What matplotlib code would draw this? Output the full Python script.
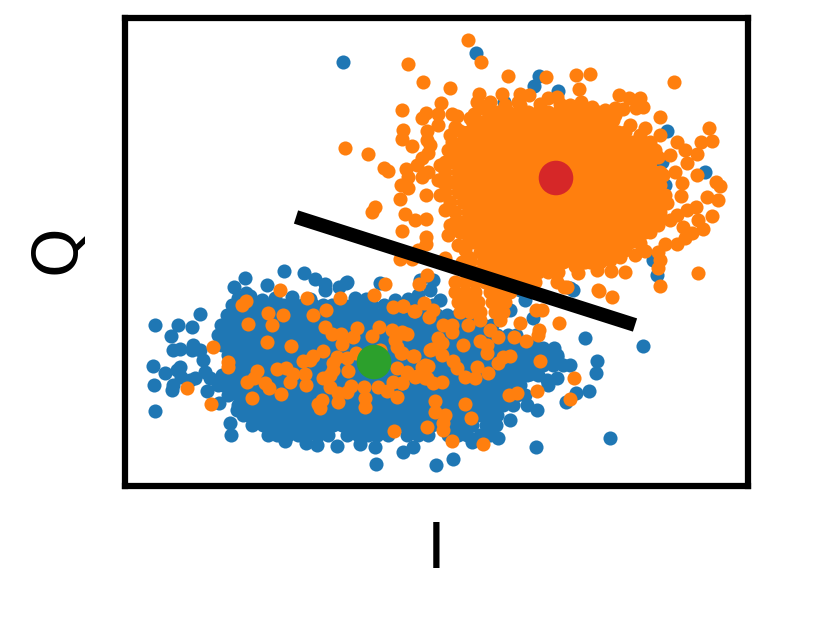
import matplotlib
matplotlib.use("Agg")
import matplotlib.pyplot as plt

# values, in the plot's own I / Q units
blue_outer = [(155,325),(178,325),(192,327),(171,336),(200,314),(173,350),(180,349),(192,350),(153,366),(165,373),
    (180,367),(177,370),(181,377),(154,385),(172,390),(173,385),(155,411),(195,378),(207,391),(219,403),(231,435),
    (230,423),(237,410),(245,278),(234,287),(284,271),(304,273),(315,279),(325,284),(347,282),(339,287),(267,285),
    (246,293),(325,290),(380,283),(285,441),(306,443),(317,445),(337,446),(360,444),(375,447),(376,464),(403,452),
    (413,447),(585,338),(643,346),(597,361),(596,373),(589,391),(576,393),(566,402),(610,438),(536,447),(453,459),
    (436,465),(537,410),(510,420),(498,438),(472,442),(570,365),(557,357),(554,348),(543,348),(537,348),(557,378),
    (547,380),(530,374),(573,290),(343,62),(476,53),(539,76),(534,86),(558,91),(504,102),(667,131),(705,172),
    (662,162),(665,185),(653,260),(657,275),(346,283),(420,280),(433,280),(570,288),(193,345),(200,350),(203,360),
    (205,372),(210,378),(190,380),(430,290),(418,295),(440,300),(520,290),(525,300),(510,310),(533,318),
    (238,298),(250,296),(262,300),(275,298),(292,297),(310,299),(355,298),(366,299),(395,300),(408,299)]

blue_core_q = [305,315,325,335,345,355,365,375,385,395,405,415,425,435]
blue_core_i = [
    [232,243,252,263,272,283,293,302,313,323,332,343,352,363,372,384,393,403,412,424,433],
    [227,237,248,258,267,278,287,298,308,318,327,338,347,358,368,378,387,398,408,418,428,437,447,458,468],
    [221,232,242,253,262,273,283,292,303,312,323,332,343,352,363,372,383,392,403,412,423,432,443,452,463,472,483,492],
    [218,227,238,247,258,268,277,288,297,308,318,327,338,348,357,368,378,387,398,408,417,428,437,448,458,468,477,488,497,508,516],
    [222,232,243,252,263,272,283,293,302,313,322,333,343,352,363,372,383,393,402,413,422,433,443,452,463,472,483,492,503,513,522,531],
    [228,237,248,258,267,278,288,297,308,318,327,338,348,357,368,378,387,398,408,417,428,438,447,458,468,477,488,498,507,518,527,537,548,557],
    [232,243,253,262,273,283,292,303,312,323,332,343,353,362,373,383,392,403,412,423,433,442,453,462,473,483,492,503,512,523,532,543,553,563],
    [222,228,238,248,257,268,278,287,298,308,317,328,338,347,358,368,377,388,398,407,418,428,437,448,458,467,478,488,497,508,518,527,538],
    [218,223,233,243,252,263,273,282,293,303,312,323,333,342,353,363,372,383,393,402,413,423,432,443,453,462,473,483,492,503,513,520,548],
    [228,238,247,258,268,277,288,298,307,318,328,337,348,358,367,378,388,397,408,418,427,438,448,457,468,478,487,498,508,517,525],
    [238,243,252,263,273,282,293,303,312,323,333,342,353,363,372,383,393,402,413,423,432,443,453,462,473,483,492,503,513,527],
    [243,248,257,268,278,287,298,308,317,328,338,347,358,368,377,388,398,407,418,428,437,448,458,467,478,488,497],
    [252,263,273,282,293,303,312,323,333,342,353,363,372,383,393,402,413,423,432,443,453,462,472,486,496],
    [268,277,288,298,307,318,328,347,358,368,377,388,407,418,428,448,458,467,480,490]]

orange_outer = [(468,40),(481,62),(408,64),(423,82),(450,88),(508,76),(546,77),(576,75),(590,74),(674,82),(579,89),
    (479,94),(502,94),(520,94),(529,95),(619,95),(629,98),(640,98),(548,98),(557,97),(477,102),(490,102),(518,102),
    (581,102),(592,107),(615,108),(623,109),(636,108),(643,107),(570,105),(402,110),(441,103),(438,114),(426,113),
    (422,118),(452,114),(457,116),(474,114),(473,123),(438,125),(660,117),(600,120),(613,120),(455,127),(403,130),
    (427,131),(709,128),(645,128),(402,139),(427,140),(412,146),(430,145),(345,148),(368,154),(660,135),(677,142),
    (701,142),(712,141),(685,150),(697,154),(670,155),(658,157),(687,163),(422,158),(417,165),(384,168),(388,171),
    (406,169),(428,153),(675,172),(663,175),(697,175),(716,182),(720,186),(682,183),(707,197),(718,200),(681,196),
    (401,185),(408,188),(408,177),(422,177),(428,172),(400,199),(426,195),(375,207),(372,212),(405,214),(415,220),
    (426,219),(402,231),(426,237),(426,244),(712,216),(696,207),(687,210),(677,215),(698,220),(703,229),(692,233),
    (683,227),(685,238),(677,244),(665,244),(658,252),(645,251),(635,255),(658,268),(660,260),(620,257),(625,272),
    (611,271),(597,270),(578,273),(698,273),(660,286),(557,282),(567,287),(598,290),(400,259),(412,259),(418,250),
    (445,258),(670,220),(657,220),(667,203),(599,291),(612,297),(564,287),(536,310),(542,310),(559,323),(539,330),
    (538,335),(520,323),(514,337),(526,341),(540,361),(574,378),(537,391),(517,393),(509,395),(570,399),(427,275),
    (419,284),(403,306),(424,303),(414,311),(429,317),(433,310),(443,325),(452,325),(452,332),(403,333),(463,345),
    (438,338),(432,349),(442,343),(442,355),(413,356),(402,353),(480,341),(487,345),(487,353),(510,356),(503,357),
    (498,363),(453,361),(457,368),(477,367),(488,373),(465,377),(475,378),(428,366),(422,367),(433,383),(442,382),
    (427,378),(407,373),(415,377),(402,383),(435,401),(465,404),(435,412),(445,415),(443,423),(443,430),(427,427),
    (471,418),(452,441),(483,444),(280,290),(246,301),(242,305),(307,298),(340,298),(374,295),(385,284),(393,307),
    (403,306),(415,311),(268,313),(283,315),(313,315),(326,310),(248,324),(272,325),(325,327),(357,328),(332,334),
    (341,334),(353,337),(372,336),(379,327),(392,330),(402,332),(407,334),(395,340),(397,347),(401,353),(414,356),
    (213,347),(228,362),(228,367),(267,342),(291,346),(342,344),(323,351),(313,356),(303,361),(310,360),(337,357),
    (347,358),(356,353),(333,363),(348,371),(257,371),(277,369),(286,368),(293,374),(305,374),(290,382),(306,385),
    (247,382),(254,378),(265,383),(269,388),(281,394),(187,388),(252,398),(211,404),(323,378),(330,375),(333,370),
    (330,387),(351,386),(347,392),(338,393),(338,402),(322,400),(318,404),(320,408),(364,387),(378,387),(365,398),
    (365,407),(387,391),(393,382),(402,383),(397,397),(397,368),(407,372),(417,376),(425,365),(425,378),(394,431),
    (430,350),(380,350),(490,330),(498,337),(500,320),(505,302),(468,325),(480,320),
    (448,150),(440,165),(438,180),(440,195),(445,210),(450,225),(448,235),(458,245),(465,250),(470,258),(462,262),
    (600,262),(610,260),(625,250),(640,243),(650,232),(658,225),(660,212),(665,195),(660,185),(660,172),(655,150),
    (650,142),(640,135),(630,125),(615,115),(605,110),(480,108),(470,118),(458,130),(450,135),(585,262),(575,266),
    (590,255),(545,270),(555,268),(520,105),(540,104),(560,104),(505,105)]

orange_core_q = [112,122,132,142,152,162,172,182,192,202,212,222,232,242,252,262,272,282,292,302,312]
orange_core_i = [
    [488,498,508,518,528,538,548,558,568,578,588,598],
    [473,483,493,503,513,523,533,543,553,563,573,583,593,603,610],
    [462,468,478,488,498,508,518,528,538,548,558,568,578,588,598,608,618,625],
    [452,463,473,483,493,503,513,523,533,543,553,563,573,583,593,603,613,623,633,640],
    [450,458,468,478,488,498,508,518,528,538,548,558,568,578,588,598,608,618,628,638,648],
    [445,453,463,473,483,493,503,513,523,533,543,553,563,573,583,593,603,613,623,633,643,650],
    [445,458,468,478,488,498,508,518,528,538,548,558,568,578,588,598,608,618,628,638,648,655],
    [443,453,463,473,483,493,503,513,523,533,543,553,563,573,583,593,603,613,623,633,643,653],
    [445,458,468,478,488,498,508,518,528,538,548,558,568,578,588,598,608,618,628,638,648,655],
    [450,463,473,483,493,503,513,523,533,543,553,563,573,583,593,603,613,623,633,643,653,660],
    [455,468,478,488,498,508,518,528,538,548,558,568,578,588,598,608,618,628,638,648,655],
    [455,463,473,483,493,503,513,523,533,543,553,563,573,583,593,603,613,623,633,643,650],
    [460,468,478,488,498,508,518,528,538,548,558,568,578,588,598,608,618,628,638,645],
    [468,473,483,493,503,513,523,533,543,553,563,573,583,593,603,613,623,630],
    [480,488,498,508,518,528,538,548,558,568,578,588,598,608,615],
    [470,483,493,503,513,523,533,543,553,563,573,583,590],
    [465,478,488,498,508,518,528,538,548,558],
    [455,465,475,485,495,505,515,525,535],
    [455,465,475,490,500,510],
    [458,468,478,492,502],
    [460,470,480,495,503]]

line_i = [296, 635]
line_q = [217, 325]
centre_i = [374, 556]
centre_q = [362, 178]
centre_colors = ["tab:green", "tab:red"]


def flatten(qs, rows):
    return [i for row in rows for i in row], [q for q, row in zip(qs, rows) for i in row]


blue_i, blue_q = flatten(blue_core_q, blue_core_i)
blue_i += [p[0] for p in blue_outer]
blue_q += [p[1] for p in blue_outer]
orange_i, orange_q = flatten(orange_core_q, orange_core_i)
orange_i += [p[0] for p in orange_outer]
orange_q += [p[1] for p in orange_outer]

fig = plt.figure(figsize=(8.31, 6.23), dpi=100)
ax = fig.add_axes([125/831, 1-486/623, 623/831, 468/623])
ax.scatter(blue_i, blue_q, s=103, c="tab:blue", linewidths=0, zorder=2)
ax.scatter(orange_i, orange_q, s=103, c="tab:orange", linewidths=0, zorder=3)
ax.plot(line_i, line_q, color="k", lw=10, solid_capstyle="butt", zorder=4)
ax.scatter(centre_i, centre_q, s=620, c=centre_colors, linewidths=0, zorder=5)
ax.set_xlim(125, 748)
ax.set_ylim(486, 18)
ax.set_xticks([])
ax.set_yticks([])
for s in ax.spines.values():
    s.set_linewidth(4.5)
ax.set_xlabel("I", fontsize=45.5, labelpad=25)
ax.set_ylabel("Q", fontsize=45.5, labelpad=27, y=0.507)
fig.savefig("out.png", dpi=100)
